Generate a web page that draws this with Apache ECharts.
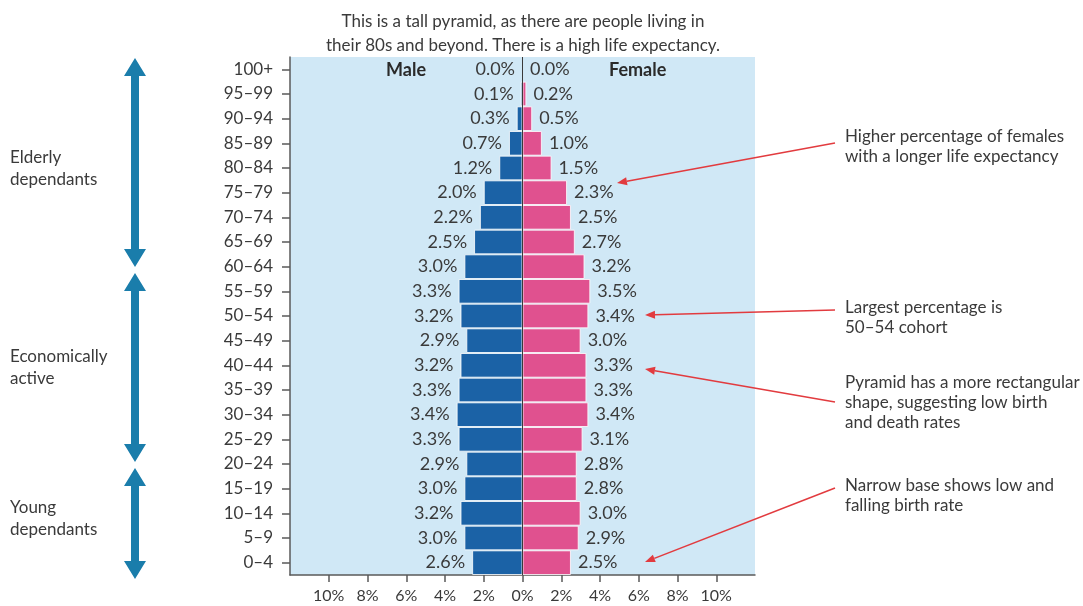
<!DOCTYPE html>
<html>
<head>
<meta charset="utf-8">
<script src="https://cdn.jsdelivr.net/npm/echarts@6/dist/echarts.min.js"></script>
<style>
html, body { margin: 0; padding: 0; background: #fff; }
#main { width: 1083px; height: 606px; }
</style>
</head>
<body>
<div id="main"></div>
<script>
// age groups from the bottom of the pyramid upwards
var ageGroups = ['0–4', '5–9', '10–14', '15–19', '20–24', '25–29', '30–34', '35–39', '40–44', '45–49',
    '50–54', '55–59', '60–64', '65–69', '70–74', '75–79', '80–84', '85–89', '90–94', '95–99', '100+'];
var malePct = [2.6, 3.0, 3.2, 3.0, 2.9, 3.3, 3.4, 3.3, 3.2, 2.9, 3.2, 3.3, 3.0, 2.5, 2.2, 2.0, 1.2, 0.7, 0.3, 0.1, 0.0];
var femalePct = [2.5, 2.9, 3.0, 2.8, 2.8, 3.1, 3.4, 3.3, 3.3, 3.0, 3.4, 3.5, 3.2, 2.7, 2.5, 2.3, 1.5, 1.0, 0.5, 0.2, 0.0];
var axisLimit = 12;
var axisStep = 2;

var titleLines = ['This is a tall pyramid, as there are people living in',
    'their 80s and beyond. There is a high life expectancy.'];
var notes = [
    'Higher percentage of females\nwith a longer life expectancy',
    'Largest percentage is\n50–54 cohort',
    'Pyramid has a more rectangular\nshape, suggesting low birth\nand death rates',
    'Narrow base shows low and\nfalling birth rate'
];
var groups = ['Elderly\ndependants', 'Economically\nactive', 'Young\ndependants'];

var FONT = 'Lato, "Noto Sans", sans-serif';
var TXT = '#3a3a3a';
var RED = '#e23b3f';
var TEAL = '#1a7dab';

// red annotation arrow: line + small triangle head at (x2, y2)
function redArrow(x1, y1, x2, y2) {
    var dx = x2 - x1, dy = y2 - y1;
    var len = Math.sqrt(dx * dx + dy * dy);
    var ux = dx / len, uy = dy / len;
    var hl = 10, hw = 4;
    var bx = x2 - ux * hl, by = y2 - uy * hl;
    return [{
        type: 'line', silent: true,
        shape: { x1: x1, y1: y1, x2: bx, y2: by },
        style: { stroke: RED, lineWidth: 1.6 }
    }, {
        type: 'polygon', silent: true,
        shape: { points: [[x2, y2], [bx - uy * hw, by + ux * hw], [bx + uy * hw, by - ux * hw]] },
        style: { fill: RED }
    }];
}

// vertical double headed arrow for the age groups
function tealArrow(x, y1, y2) {
    var sw = 4, hw = 11, hl = 18;
    return {
        type: 'polygon', silent: true,
        shape: { points: [[x, y1], [x + hw, y1 + hl], [x + sw, y1 + hl], [x + sw, y2 - hl], [x + hw, y2 - hl],
            [x, y2], [x - hw, y2 - hl], [x - sw, y2 - hl], [x - sw, y1 + hl], [x - hw, y1 + hl]] },
        style: { fill: TEAL }
    };
}

function noteText(str, x, y, lh) {
    return {
        type: 'text', silent: true, left: x, top: y,
        style: { text: str, font: '17px ' + FONT, fill: TXT, lineHeight: lh }
    };
}

var graphics = [
    tealArrow(135, 58, 267),
    tealArrow(135, 273, 462),
    tealArrow(135, 468, 579),
    noteText(groups[0], 10, 147, 22),
    noteText(groups[1], 10, 346, 22),
    noteText(groups[2], 10, 497, 22),
    noteText(notes[0], 845, 127, 20),
    noteText(notes[1], 845, 298, 20),
    noteText(notes[2], 845, 373, 20),
    noteText(notes[3], 845, 476, 20),
    {
        type: 'text', silent: true, left: 386, top: 61,
        style: { text: 'Male', font: 'bold 18px ' + FONT, fill: '#2a2a2a' }
    },
    {
        type: 'text', silent: true, left: 609, top: 61,
        style: { text: 'Female', font: 'bold 18px ' + FONT, fill: '#2a2a2a' }
    }
].concat(
    redArrow(835, 143, 617, 183),
    redArrow(835, 310, 645, 315),
    redArrow(835, 402, 645, 369),
    redArrow(835, 488, 645, 562)
);

var chart = echarts.init(document.getElementById('main'));
chart.setOption({
    animation: false,
    title: {
        text: titleLines.join('\n'),
        left: 518, top: 5, textAlign: 'center',
        textStyle: { fontFamily: FONT, fontSize: 17, fontWeight: 'normal', color: TXT, lineHeight: 24 }
    },
    grid: {
        left: 290, right: 328, top: 57, bottom: 31,
        show: true, backgroundColor: '#d0e8f6', borderWidth: 0
    },
    xAxis: {
        type: 'value', min: -axisLimit, max: axisLimit, interval: axisStep,
        axisLine: { show: true, onZero: false, lineStyle: { color: '#5a5a5a', width: 1.5 } },
        axisTick: { show: true, length: 7, lineStyle: { color: '#5a5a5a', width: 1.5 } },
        splitLine: { show: false },
        axisLabel: {
            showMinLabel: false, showMaxLabel: false, margin: 13,
            fontFamily: FONT, fontSize: 16, color: TXT,
            formatter: function (v) { return Math.abs(v) + '%'; }
        }
    },
    yAxis: {
        type: 'category', data: ageGroups,
        axisLine: { show: true, onZero: false, lineStyle: { color: '#5a5a5a', width: 1.5 } },
        axisTick: { show: true, alignWithLabel: true, length: 8, lineStyle: { color: '#5a5a5a', width: 1.5 } },
        axisLabel: { margin: 17, fontFamily: FONT, fontSize: 17, color: TXT }
    },
    series: [{
        name: 'Male', type: 'bar',
        data: malePct.map(function (v) { return -v; }),
        barGap: '-100%', barCategoryGap: '0%',
        itemStyle: { color: '#1b62a6', borderColor: 'rgba(255,255,255,0.8)', borderWidth: 1 },
        label: {
            show: true, position: 'left', distance: 7,
            fontFamily: FONT, fontSize: 18, color: TXT,
            formatter: function (p) { return Math.abs(p.value).toFixed(1) + '%'; }
        },
        markLine: {
            silent: true, symbol: 'none', label: { show: false },
            lineStyle: { color: '#3a3a3a', width: 1, type: 'solid' },
            data: [{ xAxis: 0 }]
        },
        z: 2
    }, {
        name: 'Female', type: 'bar',
        data: femalePct,
        barGap: '-100%', barCategoryGap: '0%',
        itemStyle: { color: '#e0518f', borderColor: 'rgba(255,255,255,0.8)', borderWidth: 1 },
        label: {
            show: true, position: 'right', distance: 7,
            fontFamily: FONT, fontSize: 18, color: TXT,
            formatter: function (p) { return p.value.toFixed(1) + '%'; }
        },
        z: 2
    }],
    graphic: graphics
});
</script>
</body>
</html>
